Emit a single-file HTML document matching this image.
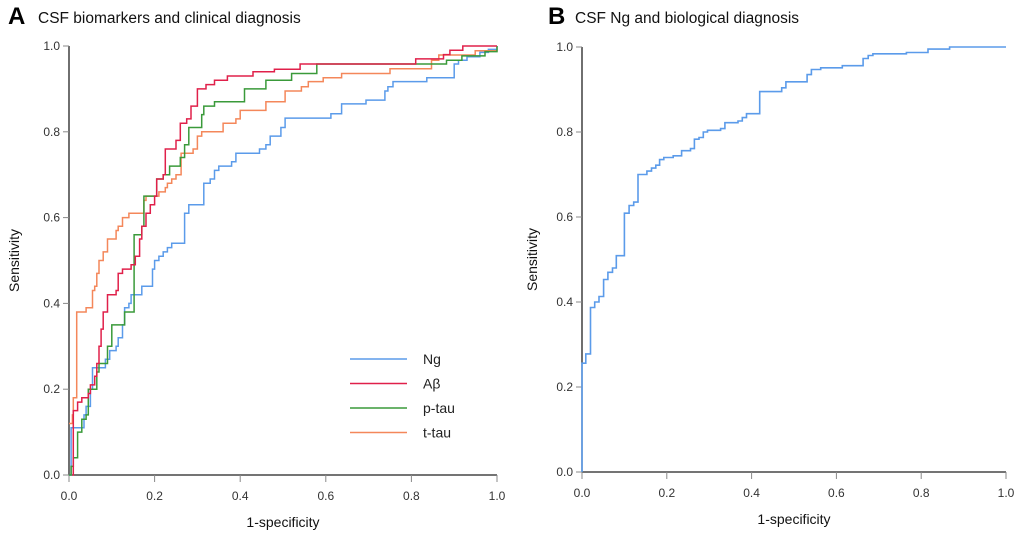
<!DOCTYPE html>
<html><head><meta charset="utf-8">
<style>
html,body{margin:0;padding:0;background:#fff;}
svg{display:block;font-family:"Liberation Sans",Arial,sans-serif;}
</style></head>
<body>
<svg id="chart" width="1020" height="540" viewBox="0 0 1020 540">
  <g id="panelA"></g>
  <g id="panelB"></g>
</svg>
<script>
// ---- data ----
const tickValues = [0, 0.2, 0.4, 0.6, 0.8, 1.0];
const tickLabels = ["0.0", "0.2", "0.4", "0.6", "0.8", "1.0"];
const seriesNames = ["Ng", "Aβ", "p-tau", "t-tau"];
const ngA_x = [0,0.005,0.03,0.035,0.04,0.05,0.055,0.08,0.085,0.095,0.11,0.115,0.125,0.13,0.14,0.145,0.165,0.17,0.19,0.195,0.2,0.21,0.22,0.23,0.24,0.26,0.27,0.28,0.31,0.315,0.33,0.34,0.35,0.38,0.39,0.44,0.445,0.46,0.47,0.48,0.495,0.505,0.612,0.637,0.694,0.738,0.745,0.757,0.836,0.9,0.91,0.93,0.96,0.98,1.0];
const ngA_y = [0,0.11,0.11,0.14,0.16,0.2,0.25,0.25,0.27,0.29,0.3,0.32,0.35,0.39,0.4,0.42,0.42,0.44,0.44,0.48,0.5,0.51,0.52,0.53,0.54,0.54,0.61,0.63,0.63,0.68,0.69,0.71,0.72,0.73,0.75,0.75,0.76,0.77,0.79,0.79,0.81,0.832,0.842,0.865,0.874,0.895,0.905,0.917,0.926,0.958,0.967,0.975,0.985,0.992,1.0];
const abA_x = [0.008,0.01,0.02,0.03,0.045,0.05,0.06,0.065,0.07,0.075,0.08,0.09,0.11,0.115,0.125,0.145,0.155,0.165,0.17,0.18,0.19,0.2,0.205,0.22,0.225,0.25,0.26,0.275,0.285,0.3,0.32,0.34,0.37,0.43,0.48,0.54,0.81,0.875,0.89,0.92,1.0];
const abA_y = [0,0.15,0.17,0.18,0.19,0.21,0.23,0.26,0.3,0.34,0.38,0.42,0.43,0.47,0.48,0.49,0.51,0.55,0.58,0.61,0.63,0.65,0.69,0.7,0.76,0.78,0.82,0.83,0.86,0.9,0.91,0.92,0.93,0.94,0.946,0.958,0.97,0.98,0.99,1.0,1.0];
const ptA_x = [0,0.005,0.01,0.02,0.03,0.04,0.045,0.06,0.065,0.07,0.09,0.1,0.125,0.13,0.15,0.152,0.17,0.175,0.2,0.205,0.22,0.235,0.26,0.27,0.28,0.3,0.31,0.315,0.34,0.4,0.41,0.44,0.46,0.52,0.579,0.882,0.918,0.972,1.0];
const ptA_y = [0,0.02,0.04,0.1,0.13,0.14,0.2,0.2,0.24,0.26,0.3,0.35,0.35,0.38,0.38,0.56,0.58,0.65,0.65,0.69,0.7,0.72,0.74,0.77,0.81,0.81,0.84,0.86,0.87,0.87,0.9,0.9,0.92,0.936,0.958,0.967,0.977,0.987,1.0];
const ttA_x = [0,0.008,0.01,0.017,0.018,0.03,0.04,0.05,0.055,0.06,0.065,0.07,0.08,0.09,0.1,0.11,0.115,0.125,0.14,0.17,0.175,0.18,0.2,0.21,0.225,0.23,0.24,0.25,0.262,0.29,0.3,0.31,0.34,0.36,0.39,0.4,0.44,0.46,0.505,0.543,0.559,0.594,0.637,0.75,0.847,0.864,0.949,1.0];
const ttA_y = [0.12,0.14,0.18,0.18,0.38,0.38,0.39,0.39,0.43,0.44,0.47,0.5,0.52,0.55,0.55,0.57,0.58,0.6,0.61,0.61,0.64,0.65,0.65,0.66,0.67,0.68,0.69,0.7,0.75,0.76,0.79,0.8,0.8,0.82,0.83,0.85,0.85,0.87,0.895,0.905,0.917,0.926,0.936,0.947,0.967,0.979,0.989,0.99];
const ngB_x = [0,0,0.009,0.02,0.03,0.04,0.051,0.061,0.072,0.081,0.1,0.111,0.122,0.132,0.153,0.164,0.174,0.183,0.193,0.215,0.235,0.256,0.265,0.276,0.286,0.296,0.327,0.337,0.368,0.378,0.388,0.419,0.471,0.481,0.531,0.541,0.563,0.614,0.663,0.675,0.686,0.765,0.816,0.867,1.0];
const ngB_y = [0,0.256,0.278,0.387,0.4,0.413,0.453,0.47,0.48,0.509,0.609,0.627,0.635,0.70,0.708,0.715,0.722,0.735,0.74,0.744,0.756,0.761,0.783,0.787,0.80,0.804,0.808,0.822,0.826,0.834,0.843,0.895,0.904,0.918,0.935,0.947,0.951,0.956,0.973,0.98,0.984,0.987,0.995,1.0,1.0];

const NS = "http://www.w3.org/2000/svg";
function mk(parent, tag, attrs, text) {
  const el = document.createElementNS(NS, tag);
  for (const k in attrs) el.setAttribute(k, attrs[k]);
  if (text !== undefined) el.textContent = text;
  parent.appendChild(el);
  return el;
}
function stepPath(xs, ys, sx, sy) {
  let d = "M" + sx(xs[0]).toFixed(1) + "," + sy(ys[0]).toFixed(1);
  for (let i = 1; i < xs.length; i++) {
    d += " H" + sx(xs[i]).toFixed(1) + " V" + sy(ys[i]).toFixed(1);
  }
  return d;
}
function drawAxes(g, x0, x1, y0, y1, letter, title, letterX, titleX, ylabX) {
  const sx = v => x0 + v * (x1 - x0);
  const sy = v => y0 - v * (y0 - y1);
  const t1 = mk(g, "text", {x: letterX, y: 24, "font-size": 24, "font-weight": "bold", fill: "#000"}, letter);
  
  
  const t2 = mk(g, "text", {x: titleX, y: 23, "font-size": 15.5, fill: "#111"}, title);
  
  
  const ya = mk(g, "line", {x1: x0, y1: y1, x2: x0, y2: y0, stroke: "#222", "stroke-width": 1.3});
  
  
  const xa = mk(g, "line", {x1: x0, y1: y0, x2: x1, y2: y0, stroke: "#222", "stroke-width": 1.3});
  
  
  tickValues.forEach((v, i) => {
    const yt = mk(g, "line", {x1: x0 - 6, y1: sy(v), x2: x0, y2: sy(v), stroke: "#888", "stroke-width": 1});
    
    
    const yl = mk(g, "text", {x: x0 - 9, y: sy(v) + 4, "font-size": 12, fill: "#333", "text-anchor": "end"}, tickLabels[i]);
    
    
    const xt = mk(g, "line", {x1: sx(v), y1: y0, x2: sx(v), y2: y0 + 7, stroke: "#888", "stroke-width": 1});
    
    
    const xl = mk(g, "text", {x: sx(v), y: y0 + 25, "font-size": 12, fill: "#333", "text-anchor": "middle"}, tickLabels[i]);
    
    
  });
  const xt = mk(g, "text", {x: (x0 + x1) / 2, y: y0 + 52, "font-size": 14, fill: "#111", "text-anchor": "middle"}, "1-specificity");
  
  
  const cy = (y0 + y1) / 2;
  const yT = mk(g, "text", {x: ylabX, y: cy, "font-size": 14, fill: "#111", "text-anchor": "middle", transform: "rotate(-90 " + ylabX + " " + cy + ")"}, "Sensitivity");
  
  
  return {sx, sy};
}
// Panel A
const gA = document.getElementById("panelA");
const A = drawAxes(gA, 69, 497, 475, 46, "A", "CSF biomarkers and clinical diagnosis", 8, 38, 19);
const colors = ["#5b9bea", "#e0204a", "#3a9a3a", "#f4875a"];
const seriesA = [[ngA_x, ngA_y], [abA_x, abA_y], [ptA_x, ptA_y], [ttA_x, ttA_y]];
const order = [0, 3, 2, 1];
order.forEach(i => {
  const p = mk(gA, "path", {d: stepPath(seriesA[i][0], seriesA[i][1], A.sx, A.sy), fill: "none", stroke: colors[i], "stroke-width": 1.5});
  
  
});
seriesNames.forEach((n, i) => {
  const y = 359 + i * 24.5;
  const l = mk(gA, "line", {x1: 350, y1: y, x2: 407, y2: y, stroke: colors[i], "stroke-width": 1.6});
  
  
  const t = mk(gA, "text", {x: 423, y: y + 5, "font-size": 14, fill: "#222"}, n);
  
  
});
// Panel B
const gB = document.getElementById("panelB");
const B = drawAxes(gB, 582, 1006, 472, 47, "B", "CSF Ng and biological diagnosis", 548, 575, 537);
const pb = mk(gB, "path", {d: stepPath(ngB_x, ngB_y, B.sx, B.sy), fill: "none", stroke: "#5b9bea", "stroke-width": 1.6});


</script>
</body></html>
